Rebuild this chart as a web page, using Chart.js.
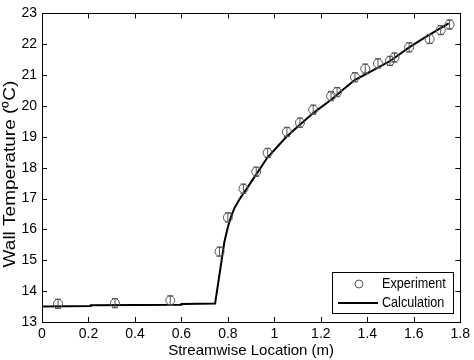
<!DOCTYPE html>
<html><head><meta charset="utf-8">
<script src="https://cdn.jsdelivr.net/npm/chart.js@4.4.0/dist/chart.umd.min.js"></script>
<style>html,body{margin:0;padding:0;background:#fff}#wrap{width:474px;height:360px}</style>
</head><body><div id="wrap"><canvas id="c" width="474" height="360"></canvas></div>
<script>
const expX = [0.069, 0.314, 0.552, 0.764, 0.800, 0.867, 0.922, 0.971, 1.054, 1.110, 1.167, 1.244, 1.270, 1.347, 1.391, 1.446, 1.497, 1.517, 1.580, 1.668, 1.716, 1.754];
const expY = [13.59, 13.61, 13.70, 15.28, 16.39, 17.32, 17.87, 18.48, 19.16, 19.46, 19.88, 20.32, 20.45, 20.93, 21.21, 21.38, 21.46, 21.57, 21.90, 22.17, 22.46, 22.64];
const expErr = [0.15, 0.15, 0.15, 0.15, 0.15, 0.15, 0.15, 0.15, 0.15, 0.15, 0.15, 0.15, 0.15, 0.15, 0.15, 0.15, 0.15, 0.15, 0.15, 0.15, 0.15, 0.15];
const calcX = [0.005, 0.21, 0.21, 0.6, 0.6, 0.745, 0.765, 0.785, 0.80, 0.815, 0.83, 0.85, 0.87, 0.92, 0.97, 1.054, 1.10, 1.167, 1.244, 1.30, 1.347, 1.40, 1.497, 1.58, 1.65, 1.75];
const calcY = [13.50, 13.52, 13.54, 13.56, 13.58, 13.60, 14.60, 15.60, 16.08, 16.45, 16.72, 16.98, 17.20, 17.76, 18.33, 19.02, 19.33, 19.77, 20.20, 20.56, 20.85, 21.06, 21.45, 21.90, 22.23, 22.68];
const xTicks = [0, 0.2, 0.4, 0.6, 0.8, 1, 1.2, 1.4, 1.6, 1.8];
const yTicks = [13, 14, 15, 16, 17, 18, 19, 20, 21, 22, 23];
const seriesNames = ['Experiment', 'Calculation'];
const xTitle = 'Streamwise Location (m)';
const yTitle = 'Wall Temperature (\u2070C)';

const FONT = '"Liberation Sans", Arial, sans-serif';
const markerColor = '#555';

const framePlugin = {
  id: 'frame',
  afterDatasetsDraw(chart) {
    const {ctx, chartArea: a, scales} = chart;
    const xs = scales.x, ys = scales.y;
    ctx.save();
    // error bars
    ctx.strokeStyle = markerColor; ctx.lineWidth = 1;
    expX.forEach((xv, i) => {
      const px = xs.getPixelForValue(xv);
      const p1 = ys.getPixelForValue(expY[i] + expErr[i]);
      const p2 = ys.getPixelForValue(expY[i] - expErr[i]);
      ctx.beginPath();
      ctx.moveTo(px, p1); ctx.lineTo(px, p2);
      ctx.moveTo(px - 3, p1); ctx.lineTo(px + 3, p1);
      ctx.moveTo(px - 3, p2); ctx.lineTo(px + 3, p2);
      ctx.stroke();
    });
    // frame
    ctx.strokeStyle = '#000'; ctx.lineWidth = 1;
    ctx.strokeRect(Math.round(a.left) + 0.5, Math.round(a.top) + 0.5, Math.round(a.right - a.left), Math.round(a.bottom - a.top));
    // inward ticks
    ctx.beginPath();
    xTicks.forEach(v => {
      const px = Math.round(xs.getPixelForValue(v)) + 0.5;
      ctx.moveTo(px, a.bottom); ctx.lineTo(px, a.bottom - 5);
      ctx.moveTo(px, a.top); ctx.lineTo(px, a.top + 5);
    });
    yTicks.forEach(v => {
      const py = Math.round(ys.getPixelForValue(v)) + 0.5;
      ctx.moveTo(a.left, py); ctx.lineTo(a.left + 5, py);
      ctx.moveTo(a.right, py); ctx.lineTo(a.right - 5, py);
    });
    ctx.stroke();
    // legend box
    const lx = 332, ly = 272, lw = 121, lh = 41;
    ctx.fillStyle = '#fff';
    ctx.fillRect(lx, ly, lw, lh);
    ctx.strokeStyle = '#000';
    ctx.strokeRect(lx + 0.5, ly + 0.5, lw, lh);
    ctx.fillStyle = '#000';
    ctx.font = '14px ' + FONT;
    ctx.textAlign = 'left'; ctx.textBaseline = 'middle';
    [[seriesNames[0], ly + 12], [seriesNames[1], ly + 31]].forEach(([t, yy]) => {
      ctx.save(); ctx.translate(lx + 50, yy); ctx.scale(0.9, 1); ctx.fillText(t, 0, 0); ctx.restore();
    });
    ctx.strokeStyle = markerColor; ctx.lineWidth = 1;
    ctx.beginPath(); ctx.arc(lx + 27, ly + 12, 4, 0, Math.PI * 2); ctx.stroke();
    ctx.strokeStyle = '#000'; ctx.lineWidth = 2;
    ctx.beginPath(); ctx.moveTo(lx + 6, ly + 31); ctx.lineTo(lx + 46, ly + 31); ctx.stroke();
    // y title
    ctx.save();
    ctx.translate(11, 174);
    ctx.rotate(-Math.PI / 2);
    ctx.scale(1, 0.82);
    ctx.fillStyle = '#000';
    ctx.font = '19px ' + FONT;
    ctx.textAlign = 'center'; ctx.textBaseline = 'middle';
    ctx.fillText(yTitle, 0, 0);
    ctx.restore();
    ctx.restore();
  }
};

new Chart(document.getElementById('c'), {
  type: 'scatter',
  data: {
    datasets: [
      {
        label: seriesNames[0],
        data: expX.map((x, i) => ({x, y: expY[i]})),
        pointStyle: 'circle', pointRadius: 4.5, borderWidth: 1,
        borderColor: markerColor, backgroundColor: 'rgba(0,0,0,0)', showLine: false
      },
      {
        label: seriesNames[1],
        data: calcX.map((x, i) => ({x, y: calcY[i]})),
        showLine: true, pointRadius: 0, borderColor: '#000', borderWidth: 2,
        tension: 0, fill: false
      }
    ]
  },
  plugins: [framePlugin],
  options: {
    responsive: false, animation: false,
    layout: {padding: {top: 6, right: 8, left: 0, bottom: 0}},
    plugins: {legend: {display: false}, tooltip: {enabled: false}},
    scales: {
      x: {
        type: 'linear', min: 0, max: 1.8,
        afterBuildTicks: s => { s.ticks = xTicks.map(v => ({value: v})); },
        afterFit: s => { s.height = 38; },
        grid: {display: false, drawTicks: false},
        border: {display: false},
        ticks: {color: '#000', font: {family: FONT, size: 14}, padding: 4, maxRotation: 0,
          callback: v => String(v)},
        title: {display: true, text: xTitle, color: '#000', font: {family: FONT, size: 15}, padding: {top: 0, bottom: 0}}
      },
      y: {
        type: 'linear', min: 13, max: 23,
        afterBuildTicks: s => { s.ticks = yTicks.map(v => ({value: v})); },
        afterFit: s => { s.width = 42; },
        grid: {display: false, drawTicks: false},
        border: {display: false},
        ticks: {color: '#000', font: {family: FONT, size: 14}, padding: 5},
        title: {display: false}
      }
    }
  }
});
</script></body></html>
